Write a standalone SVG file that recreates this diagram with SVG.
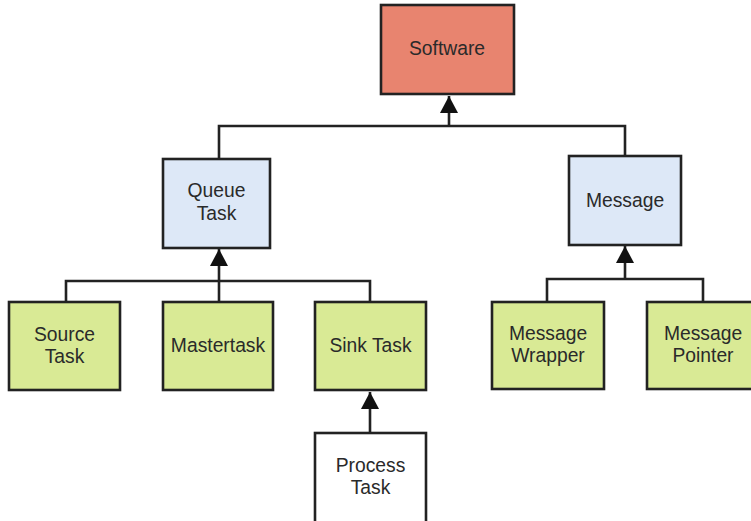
<svg xmlns="http://www.w3.org/2000/svg" width="751" height="521" viewBox="0 0 751 521">
<style>
.box{stroke:#222;stroke-width:2.6}
.red{fill:#e8846f}
.blue{fill:#dde8f7}
.green{fill:#d9ea95}
.white{fill:#ffffff}
text{font-family:"Liberation Sans",Arial,sans-serif;font-size:19.3px;fill:#2a2a2a;text-anchor:middle}
.conn{fill:none;stroke:#222;stroke-width:2.6}
</style>
<defs>
<marker id="arr" markerUnits="userSpaceOnUse" markerWidth="18" markerHeight="18" viewBox="0 0 18 18" refX="17" refY="9" orient="auto">
<path d="M0,0 L17,9 L0,18 Z" fill="#111"/>
</marker>
</defs>
<rect width="751" height="521" fill="#ffffff"/>
<g id="connectors">
<path class="conn" d="M219,159 V126 H625 V156"/>
<path class="conn" d="M449,126 V96" marker-end="url(#arr)"/>
<path class="conn" d="M66,302 V281 H370 V302"/>
<path class="conn" d="M219,302 V249" marker-end="url(#arr)"/>
<path class="conn" d="M547,302 V279 H703 V302"/>
<path class="conn" d="M625,279 V246" marker-end="url(#arr)"/>
<path class="conn" d="M370,433 V392" marker-end="url(#arr)"/>
</g>
<g id="software"><rect class="box red" x="381" y="5" width="133" height="89"/><text x="447" y="55">Software</text></g>
<g id="queue-task"><rect class="box blue" x="163" y="159" width="107" height="89"/><text x="216.5" y="197">Queue</text><text x="216.5" y="220">Task</text></g>
<g id="message"><rect class="box blue" x="569" y="156" width="112" height="89"/><text x="625" y="207">Message</text></g>
<g id="source-task"><rect class="box green" x="9" y="302" width="111" height="88"/><text x="64.5" y="341">Source</text><text x="64.5" y="363">Task</text></g>
<g id="mastertask"><rect class="box green" x="163" y="302" width="110" height="88"/><text x="218" y="352">Mastertask</text></g>
<g id="sink-task"><rect class="box green" x="315" y="302" width="111" height="88"/><text x="370.5" y="352">Sink Task</text></g>
<g id="message-wrapper"><rect class="box green" x="492" y="302" width="112" height="87"/><text x="548" y="340">Message</text><text x="548" y="362">Wrapper</text></g>
<g id="message-pointer"><rect class="box green" x="647" y="302" width="112" height="87"/><text x="703" y="340">Message</text><text x="703" y="362">Pointer</text></g>
<g id="process-task"><rect class="box white" x="315" y="433" width="111" height="100"/><text x="370.5" y="472">Process</text><text x="370.5" y="494">Task</text></g>
</svg>
